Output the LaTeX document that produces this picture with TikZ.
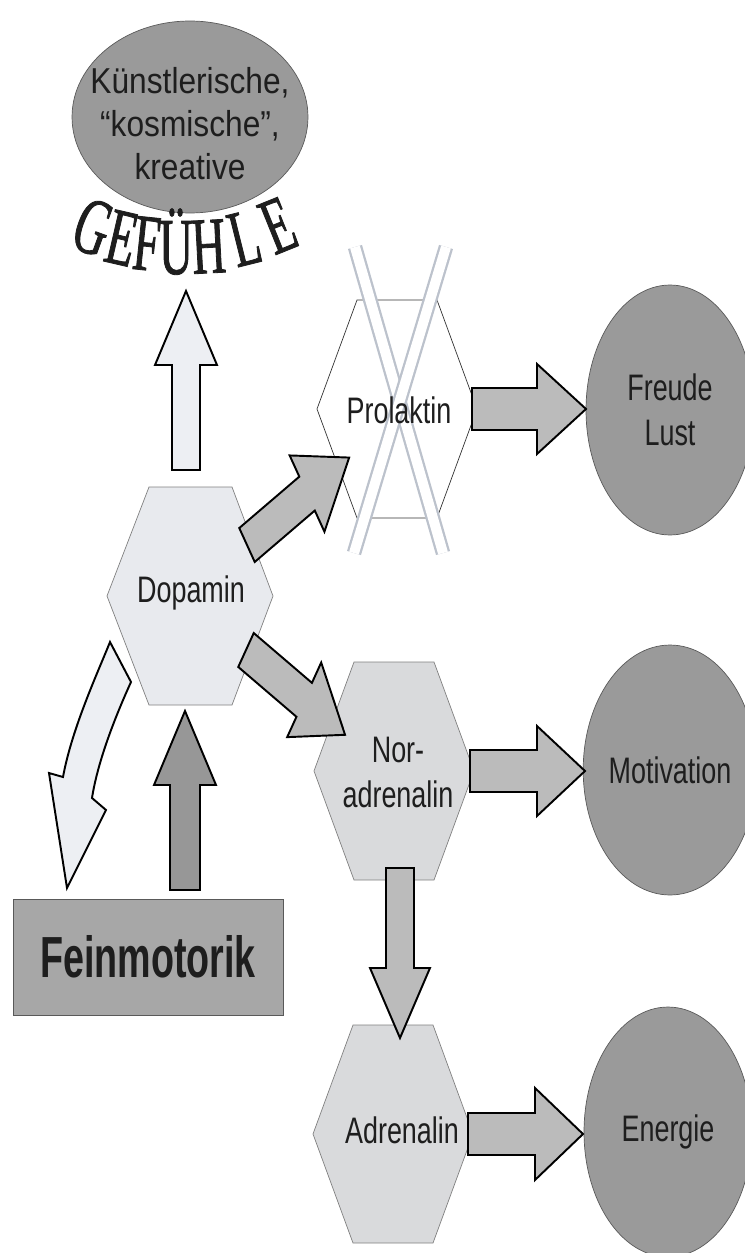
\documentclass[tikz,border=0pt]{standalone}
\usepackage{fontspec}
\setmainfont{Liberation Sans}
\newfontfamily\labelfont{Liberation Sans}[FakeStretch=0.73]
\newfontfamily\topfont{Liberation Sans}[FakeStretch=0.88]
\newfontfamily\boxfont{Liberation Sans}[FakeStretch=0.65]
\newfontfamily\archfont{Liberation Serif}[FakeStretch=0.58,FakeBold=1]
\usepackage{tikz}
\usetikzlibrary{shapes.geometric,calc}

\definecolor{bubblegrey}{HTML}{9A9A9A}
\definecolor{bubbleline}{HTML}{5A5A5A}
\definecolor{dopfill}{HTML}{E8EAEE}
\definecolor{hexfill}{HTML}{D9DADC}
\definecolor{boxgrey}{HTML}{A7A7A7}
\definecolor{paleblue}{HTML}{EDEFF3}
\definecolor{midgrey}{HTML}{BBBBBB}
\definecolor{darkgrey}{HTML}{979797}
\definecolor{crossline}{HTML}{BCC2CC}
\definecolor{ink}{HTML}{1E1E1E}

\newcommand{\blockarrow}[5]{%
	\draw[#1] (0,{-#3}) -- ({#2-#5},{-#3}) -- ({#2-#5},{-#4}) -- (#2,0)
		-- ({#2-#5},#4) -- ({#2-#5},#3) -- (0,#3) -- cycle;}

\begin{document}
\begin{tikzpicture}[x=0.02cm,y=-0.02cm,
	bubble/.style={ellipse,draw=bubbleline,line width=0.4pt,fill=bubblegrey,inner sep=0pt,
		minimum width=3.36cm,minimum height=5cm,text=ink,align=center,
		font=\labelfont\fontsize{21pt}{25.6pt}\selectfont},
	toplabel/.style={text=ink,align=center,inner sep=0pt,
		font=\topfont\fontsize{20.5pt}{24.5pt}\selectfont},
	arch/.style={anchor=base,inner sep=0pt,text=ink,
		font=\archfont\fontsize{46pt}{46pt}\selectfont},
	hexlabel/.style={text=ink,align=center,inner sep=0pt,
		font=\labelfont\fontsize{21pt}{25.6pt}\selectfont},
	hexpale/.style={fill=dopfill,draw=gray,line width=0.4pt},
	hexwhite/.style={fill=white,draw=black!80,line width=0.4pt},
	hexgrey/.style={fill=hexfill,draw=gray,line width=0.4pt},
	fein/.style={rectangle,draw=gray!70!black,line width=0.4pt,fill=boxgrey,
		minimum width=5.4cm,minimum height=2.32cm,inner sep=0pt,text=ink,
		font=\boxfont\bfseries\fontsize{33pt}{33pt}\selectfont},
	palearrow/.style={fill=paleblue,draw=black,line width=1.1pt},
	midarrow/.style={fill=midgrey,draw=black,line width=1.1pt},
	darkarrow/.style={fill=darkgrey,draw=black,line width=1.1pt},
	xbar/.style={draw=crossline,line width=1.3pt,double=white,double distance=0.2cm}]

	\useasboundingbox (0,0) rectangle (744,1253);

	\node[bubble,minimum width=4.72cm,minimum height=3.84cm] (gef) at (190,117) {};
	\node[toplabel] (gef_text) at (190,124) {Künstlerische,\\“kosmische”,\\kreative};

	\node[arch,rotate=-20] (g_1) at (84,252) {G};
	\node[arch,rotate=-13] (g_2) at (116,264) {E};
	\node[arch,rotate=-6] (g_3) at (144,270) {F};
	\node[arch] (g_4) at (176,274) {Ü};
	\node[arch,rotate=3] (g_5) at (210,273) {H};
	\node[arch,rotate=14] (g_6) at (251,264) {L};
	\node[arch,rotate=22] (g_7) at (288,250) {E};

	\node[bubble] (freude) at (670,410) {Freude\\Lust};
	\node[bubble] (mot) at (670,770) {Motivation};
	\node[bubble] (ene) at (668,1132) {Energie};

	\node[fein] (fein) at (148,957) {Feinmotorik};

	\path[hexpale] (190,596) ++(-83,0) -- ++(42,-109) -- ++(83,0) -- ++(41,109) -- ++(-41,109) -- ++(-83,0) -- cycle;
	\path[hexwhite] (397,409) ++(-80,0) -- ++(40,-109) -- ++(80,0) -- ++(40,109) -- ++(-40,109) -- ++(-80,0) -- cycle;
	\path[hexgrey] (394,771) ++(-80,0) -- ++(40,-109) -- ++(80,0) -- ++(40,109) -- ++(-40,109) -- ++(-80,0) -- cycle;
	\path[hexgrey] (393,1134) ++(-80,0) -- ++(40,-109) -- ++(80,0) -- ++(40,109) -- ++(-40,109) -- ++(-80,0) -- cycle;

	\coordinate (x_1) at (355,247);
	\coordinate (x_2) at (443,553);
	\coordinate (x_3) at (446,247);
	\coordinate (x_4) at (354,553);
	\draw[xbar] (x_1) -- (x_2);
	\draw[xbar] (x_3) -- (x_4);

	\node[hexlabel] (dop) at (191,593) {Dopamin};
	\node[hexlabel] (prol) at (399,410) {Prolaktin};
	\node[hexlabel] (nor) at (398,772) {Nor-\\adrenalin};
	\node[hexlabel] (adr) at (402,1130) {Adrenalin};

	\coordinate (dop_n) at (186,470);
	\coordinate (fein_n) at (185,890);
	\coordinate (dop_ne) at (247,545);
	\coordinate (dop_se) at (246,650);
	\coordinate (prol_e) at (472,409);
	\coordinate (nor_e) at (470,771);
	\coordinate (nor_s) at (400,868);
	\coordinate (adr_e) at (468,1134);

	\blockarrow{palearrow,shift={(dop_n)},rotate=90}{179}{14}{31}{74}
	\blockarrow{darkarrow,shift={(fein_n)},rotate=90}{179}{15}{31}{74}
	\blockarrow{midarrow,shift={(dop_ne)},xscale=0.73,rotate=32}{165}{20}{45}{68}
	\blockarrow{midarrow,shift={(dop_se)},xscale=0.73,rotate=-32}{160}{20}{44}{66}
	\blockarrow{midarrow,shift={(prol_e)}}{114}{21}{45}{49}
	\blockarrow{midarrow,shift={(nor_e)}}{115}{21}{45}{48}
	\blockarrow{midarrow,shift={(nor_s)},rotate=-90}{170}{14}{30}{70}
	\blockarrow{midarrow,shift={(adr_e)}}{115}{21}{46}{48}

	\coordinate (crv_tail) at (120,662);
	\coordinate (crv_tip) at (67,888);
	\draw[palearrow] ($(crv_tail)+(-10,-20)$) .. controls ($(crv_tail)+(-22,10)$) and ($(crv_tail)+(-48,66)$) .. ($(crv_tail)+(-57,115)$)
		-- ($(crv_tip)+(-18,-115)$) -- (crv_tip) -- ($(crv_tip)+(39,-78)$) -- ($(crv_tip)+(25,-90)$)
		.. controls ($(crv_tail)+(-22,98)$) and ($(crv_tail)+(-4,53)$) .. ($(crv_tail)+(11,20)$) -- cycle;

\end{tikzpicture}
\end{document}
